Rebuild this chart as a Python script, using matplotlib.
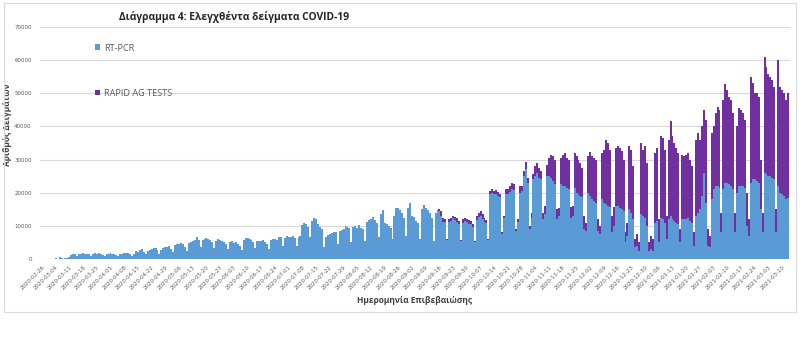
import pandas as pd
import matplotlib.pyplot as plt
import matplotlib.dates as mdates
from matplotlib.patches import Rectangle

# Daily RT-PCR samples, one row per week (Wed..Tue), from 2020-02-26
pcr = [
    30, 40, 60, 80, 20, 90, 100,
    150, 120, 450, 300, 80, 200, 350,
    700, 1300, 1500, 1400, 900, 1600, 1500,
    1700, 1500, 1600, 1400, 900, 1500, 1800,
    1600, 1700, 1500, 1300, 900, 1400, 1600,
    1700, 1600, 1500, 1200, 800, 1500, 1600,
    1800, 1700, 1900, 1400, 1000, 1500, 2300,
    2000, 2600, 2900, 2200, 1400, 2500, 2800,
    3000, 3400, 3200, 2600, 1600, 2800, 3300,
    3600, 3500, 3900, 3000, 2000, 4200, 4500,
    4500, 4800, 4400, 3600, 2400, 4700, 5200,
    5400, 5800, 6500, 5600, 3600, 5700, 5900,
    6300, 6100, 5800, 5000, 3200, 5500, 6000,
    5800, 5400, 5100, 4600, 3000, 5000, 5500,
    4800, 5000, 4600, 4000, 2600, 5800, 6200,
    6400, 6000, 5600, 5000, 3200, 5300, 5500,
    5500, 5800, 5200, 4600, 3000, 5600, 6000,
    6000, 5700, 6500, 6700, 3800, 6400, 6800,
    6700, 6500, 6800, 6200, 3800, 6600, 7000,
    10300, 10900, 10500, 9800, 6500, 11500, 12400,
    12000, 10500, 9800, 9000, 3700, 6700, 7200,
    7500, 7800, 8200, 8000, 4500, 8500, 8800,
    9000, 10000, 9600, 9200, 5200, 9800, 10000,
    9500, 10200, 9400, 9000, 5500, 11200, 11800,
    12200, 12700, 11800, 11000, 6500, 13500, 14800,
    11000, 10500, 10000, 9500, 6000, 13000, 15400,
    15500, 14800, 13900, 12500, 7000, 15500, 17000,
    13000, 12700, 11500, 10900, 6000, 15000, 16400,
    15500, 14800, 13800, 12500, 5500, 14000, 14800,
    14400, 13000, 11300, 11200, 5800, 11200, 11600,
    12300, 11900, 11300, 10700, 5500, 10800, 11500,
    11200, 10600, 10500, 9600, 5200, 11900, 12700,
    13000, 12100, 11300, 10800, 5600, 19600, 20000,
    19500, 19600, 19100, 18600, 7500, 12400, 19500,
    19500, 20200, 21000, 20900, 8300, 11200, 20000,
    20500, 25000, 27000, 23000, 9000, 12500, 24000,
    25000, 26000, 24500, 24000, 12000, 13500, 25000,
    25000, 24500, 23500, 22500, 12000, 13000, 22500,
    22000, 22000, 21500, 21000, 12500, 13000, 21500,
    20000, 19500, 19000, 18800, 9000, 8500, 20000,
    19000, 18000, 17500, 17000, 8500, 7500, 18000,
    17000, 16500, 16000, 15700, 8000, 10000, 16000,
    16000, 15500, 15000, 14500, 5000, 7000, 15000,
    14000, 12000, 3500, 4000, 2500, 13500, 13000,
    12500, 10000, 2500, 3000, 2500, 11000, 11500,
    5000, 12500, 12000, 11000, 6000, 12000, 13000,
    12000, 11500, 11000, 10500, 5000, 12000, 12000,
    12000, 12500, 11500, 11000, 4000, 13000, 14000,
    15000, 19000, 26000, 17000, 4000, 3500, 18000,
    21000, 22000, 22000, 21500, 8000, 21000, 23000,
    23000, 22500, 22000, 21000, 8000, 20000, 22000,
    22000, 22000, 21500, 10000, 7000, 23000, 24000,
    24000, 23500, 23000, 15000, 8000, 26000, 25500,
    25000, 25000, 24500, 24000, 8000, 22000, 20000,
    19500, 19000, 18000, 18500,
]

# Daily rapid antigen tests, reported from 2020-09-16
rapid_start = '2020-09-16'
rapid = [
    600, 1500, 1200, 800, 200, 800, 900,
    700, 900, 1000, 800, 300, 1200, 1000,
    800, 1200, 1000, 900, 300, 1100, 1300,
    1500, 1400, 1200, 1000, 400, 900, 1000,
    1000, 1200, 1100, 900, 500, 600, 1500,
    1500, 1800, 2000, 1600, 700, 800, 2000,
    1500, 1500, 2400, 1500, 1000, 1500, 1500,
    3000, 3000, 3000, 2500, 2000, 2500, 3500,
    5500, 7000, 7500, 7500, 3000, 2500, 8100,
    9500, 10000, 9000, 9000, 3200, 3000, 10500,
    11000, 10500, 10000, 8700, 4000, 2500, 11000,
    13400, 13000, 13000, 13000, 3500, 2500, 14000,
    16000, 19500, 19000, 17300, 5000, 5700, 17500,
    18000, 18000, 17500, 15500, 3000, 4000, 19000,
    19000, 16000, 2500, 3500, 2500, 21500, 20000,
    21500, 19000, 2500, 4000, 3500, 21000, 22000,
    7000, 24500, 24500, 22000, 7000, 24000, 28500,
    25000, 23500, 22500, 21500, 4000, 19500, 19000,
    19500, 19500, 18500, 17000, 4000, 23000, 24000,
    21000, 21000, 19000, 25000, 5000, 3500, 20000,
    19000, 22000, 24000, 23500, 6000, 27000, 29700,
    28000, 26500, 26000, 23000, 6000, 20000, 23700,
    23000, 22000, 20500, 10000, 5000, 32000, 29000,
    26000, 26500, 26000, 15000, 6000, 35000, 32500,
    30700, 30000, 29500, 28000, 7000, 38000, 32000,
    31500, 31000, 30000, 31500,
]

df = pd.DataFrame({'pcr': pcr}, index=pd.date_range('2020-02-26', periods=len(pcr), freq='D'))
df['rapid'] = pd.Series(rapid, index=pd.date_range(rapid_start, periods=len(rapid), freq='D'))
df['rapid'] = df['rapid'].fillna(0)

blue = '#5b9bd5'
purple = '#7030a0'
txt = '#595959'
fam = ['Open Sans', 'DejaVu Sans']

fig = plt.figure(figsize=(8.0, 3.41), dpi=100)
fig.patches.append(Rectangle((0.005, 0.085), 0.99, 0.905, transform=fig.transFigure,
                             fill=False, edgecolor='#d9d9d9', linewidth=0.8))
ax = fig.add_axes([0.05, 0.2405, 0.9375, 0.6804])

ax.bar(df.index, df['pcr'], width=1.0, color=blue, linewidth=0, label='RT-PCR')
ax.bar(df.index, df['rapid'], bottom=df['pcr'], width=1.0, color=purple, linewidth=0,
       label='RAPID AG TESTS')

ax.set_ylim(0, 70000)
ax.set_yticks(range(0, 70001, 10000))
ax.set_xlim(df.index[0] - pd.Timedelta(days=1), df.index[0] + pd.Timedelta(days=382))
ticks = pd.date_range('2020-02-26', '2021-03-10', freq='7D')
ax.set_xticks(ticks)
ax.xaxis.set_major_formatter(mdates.DateFormatter('%Y-%m-%d'))
for lab in ax.get_xticklabels():
    lab.set_rotation(45)
    lab.set_ha('right')
    lab.set_rotation_mode('anchor')
ax.tick_params(axis='both', length=0, labelsize=4, labelcolor=txt)
ax.tick_params(axis='y', pad=6)
ax.tick_params(axis='x', pad=4)
ax.grid(axis='y', color='#d9d9d9', linewidth=0.8)
ax.set_axisbelow(True)
for s in ax.spines.values():
    s.set_visible(False)

ax.set_ylabel('Αριθμός Δειγμάτων', fontsize=6, fontweight='bold', color='#404040', family=fam)
ax.yaxis.set_label_coords(-0.037, 0.58)
ax.set_xlabel('Ημερομηνία Επιβεβαιώσης', fontsize=6, fontweight='bold', color='#404040',
              family=fam, labelpad=4)

fig.text(0.2925, 0.95, 'Διάγραμμα 4: Ελεγχθέντα δείγματα COVID-19', ha='center', va='center',
         fontsize=7.4, fontweight='bold', color='#262626', family=fam)

ax.legend(loc='upper left', bbox_to_anchor=(0.062, 0.964), frameon=False,
          labelcolor=txt, handlelength=0.6, handleheight=0.6, handletextpad=0.4,
          labelspacing=3.95, prop={'family': fam, 'size': 6.6})

plt.savefig('out.png', dpi=100)
